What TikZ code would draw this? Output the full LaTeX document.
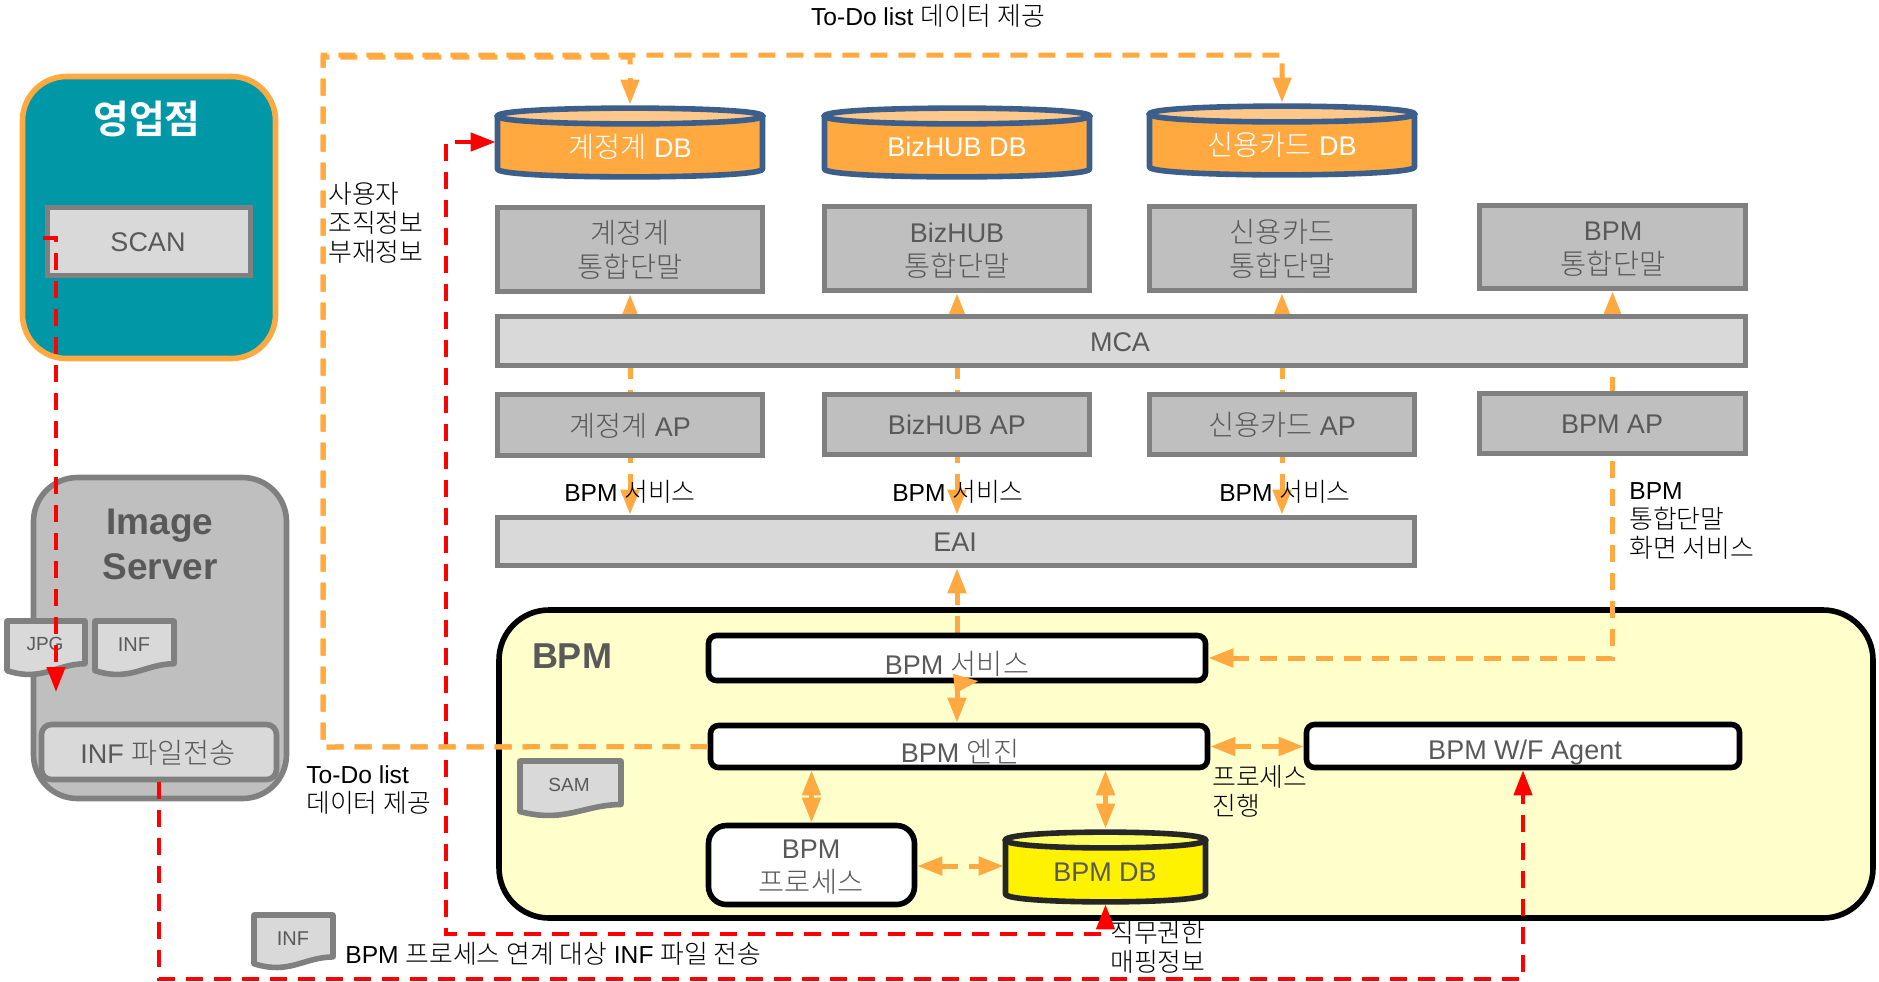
\documentclass[tikz,border=0pt]{standalone}
\usepackage{fontspec}
\setmainfont{Liberation Sans}
\newfontfamily\kr[Scale=1.05,BoldFont={Noto Sans CJK KR Bold}]{Noto Sans CJK KR Light}
\usetikzlibrary{arrows.meta,calc}
\newcommand\K[1]{{\kr #1}}
\definecolor{teal}{HTML}{0097A7}
\definecolor{orng}{HTML}{FFA940}
\definecolor{orngtop}{HTML}{FFC88A}
\definecolor{dbline}{HTML}{3B5F8A}
\definecolor{boxdark}{HTML}{BFBFBF}
\definecolor{boxlite}{HTML}{D9D9D9}
\definecolor{edge}{HTML}{808080}
\definecolor{txtgrey}{HTML}{595959}
\definecolor{paleyel}{HTML}{FFFFCC}
\definecolor{lightyel}{HTML}{FFFF66}
\definecolor{dkline}{HTML}{262626}
\pgfdeclarelayer{bg}\pgfdeclarelayer{conn}\pgfdeclarelayer{top}
\pgfsetlayers{bg,conn,main,top}
\tikzset{
  boxtxt/.style={inner sep=0pt,align=center,text=txtgrey,yshift=-0.6pt,font=\fontsize{13.5}{17}\selectfont},
  lab/.style={inner sep=0pt,align=left,anchor=west,text=black,yshift=-0.5pt,font=\fontsize{12.3}{14.4}\selectfont},
  labc/.style={inner sep=0pt,align=center,text=black,yshift=-0.5pt,font=\fontsize{12.3}{14.4}\selectfont},
  base/.style={inner sep=0pt,draw,line width=2.8pt},
  dark/.style={base,draw=edge,fill=boxdark},
  lite/.style={base,draw=edge,fill=boxlite},
  whitebox/.style={base,draw=black,fill=white,rounded corners=4pt},
  Tip/.tip={Triangle[length=12.5pt,width=9pt]},
  od/.style={draw=orng,line width=2.5pt,dash pattern=on 8.5pt off 5.5pt},
  rd/.style={draw=red,line width=2.2pt,dash pattern=on 8.5pt off 5.5pt},
}
% name, style, x0,y0,x1,y1 (outer edges), text x, text y, text
\newcommand\bx[9]{%
  \node[#2,minimum width={(#5-#3-3)*0.5pt},minimum height={(#6-#4-3)*0.5pt}] (#1) at ({(#3+#5)/2},{(#4+#6)/2}) {};
  \node[boxtxt] (#1-t) at (#7,#8) {#9};
}
% name, x0,y0,x1,y1, body, top, line
\newcommand\dbcyl[8]{%
  \node[inner sep=0pt,minimum width={(#4-#2)*0.5pt},minimum height={(#5-#3)*0.5pt}] (#1) at ({(#2+#4)/2},{(#3+#5)/2}) {};
  \pgfmathsetmacro\xl{#2+1.5}\pgfmathsetmacro\xr{#4-1.5}
  \pgfmathsetmacro\yt{#3+11}\pgfmathsetmacro\yb{#5-10}\pgfmathsetmacro\yd{10.5}
  \draw[line width=2.8pt,draw=#8,fill=#6,line join=round] (\xl,\yt) -- (\xl,\yb) .. controls (\xl,\yb+\yd) and (\xr,\yb+\yd) .. (\xr,\yb) -- (\xr,\yt) -- cycle;
  \draw[line width=2.8pt,draw=#8,fill=#7] (\xl,\yt) .. controls (\xl,\yt-\yd) and (\xr,\yt-\yd) .. (\xr,\yt) .. controls (\xr,\yt+\yd) and (\xl,\yt+\yd) .. (\xl,\yt) -- cycle;
}
% name, x0,y0,x1,y1, text x, text y, text, size
\newcommand\docbox[9]{%
  \pgfmathsetmacro\xa{#2+2}\pgfmathsetmacro\xb{#4-2}\pgfmathsetmacro\ya{#3+2}\pgfmathsetmacro\yb{#5-2}
  \pgfmathsetmacro\hh{\yb-\ya}\pgfmathsetmacro\ww{\xb-\xa}
  \draw[line width=2.8pt,draw=edge,fill=boxlite,line join=round] (\xa,\ya) -- (\xb,\ya) -- (\xb,{\ya+.79*\hh})
     .. controls ({\xa+.62*\ww},{\ya+.80*\hh}) and ({\xa+.45*\ww},{\ya+1.13*\hh}) .. (\xa,{\ya+.92*\hh}) -- cycle;
  \node[boxtxt,font=\fontsize{#9}{12}\selectfont] (#1) at (#6,#7) {#8};
}
\begin{document}
\begin{tikzpicture}[x=0.5pt,y=-0.5pt]
\useasboundingbox (0,0) rectangle (1879,981);

% big BPM container
\begin{pgfonlayer}{bg}
\node[base,draw=black,fill=paleyel,rounded corners=25pt,minimum width={(1875-497-4)*0.5pt},minimum height={(920-608-4)*0.5pt}] (bpmbig) at ({(497+1875)/2},{(608+920)/2}) {};
\end{pgfonlayer}
\node[inner sep=0pt,text=txtgrey,font=\fontsize{18}{22}\selectfont\bfseries] (bpmbig-t) at (572,656) {BPM};

% branch
\bx{branch}{base,draw=orng,fill=teal,rounded corners=22pt}{21}{75}{277}{360}{147}{118}{\textcolor{white}{\fontsize{18.5}{22}\selectfont\bfseries\K{영업점}}}
\bx{scan}{lite}{46}{206}{252}{277}{148}{241}{SCAN}

% image server
\bx{imgsrv}{base,draw=edge,fill=boxdark,rounded corners=22pt}{32}{476}{288}{800}{160}{543}{\fontsize{18.5}{22}\selectfont\bfseries Image\\[5.5pt]\fontsize{18.5}{22}\selectfont\bfseries Server}
\docbox{jpg}{5}{619}{87}{677}{45}{643}{JPG}{9.5}
\docbox{inf1}{93}{619}{176}{677}{134}{643}{INF}{10}
\bx{infsend}{lite,rounded corners=5pt}{40}{723}{278}{781}{158}{752}{INF \K{파일전송}}
\docbox{inf2}{252}{913}{335}{970}{293}{937}{INF}{10}
\docbox{sam}{518}{759}{623}{818}{569}{784}{SAM}{9.5}

% databases
\dbcyl{dbA}{496}{105}{764}{179}{orng}{orngtop}{dbline}
\node[boxtxt,text=white] (dbA-t) at (630,146) {\K{계정계} DB};
\dbcyl{dbB}{823}{105}{1091}{179}{orng}{orngtop}{dbline}
\node[boxtxt,text=white] (dbB-t) at (957,146) {BizHUB DB};
\dbcyl{dbC}{1148}{103}{1416}{177}{orng}{orngtop}{dbline}
\node[boxtxt,text=white] (dbC-t) at (1282,144) {\K{신용카드} DB};

% terminals
\bx{termA}{dark}{496}{206}{764}{293}{630}{249}{\K{계정계}\\\K{통합단말}}
\bx{termB}{dark}{823}{205}{1091}{292}{957}{249}{BizHUB\\\K{통합단말}}
\bx{termC}{dark}{1148}{205}{1416}{292}{1282}{248}{\K{신용카드}\\\K{통합단말}}
\bx{termD}{dark}{1478}{204}{1747}{290}{1613}{248}{BPM\\\K{통합단말}}

\bx{mca}{lite}{496}{315}{1747}{367}{1120}{341}{MCA}

\bx{apA}{dark}{496}{393}{764}{457}{630}{425}{\K{계정계} AP}
\bx{apB}{dark}{823}{393}{1091}{456}{957}{424}{BizHUB AP}
\bx{apC}{dark}{1148}{393}{1416}{456}{1282}{424}{\K{신용카드} AP}
\bx{apD}{dark}{1478}{392}{1747}{455}{1612}{423}{BPM AP}

\bx{eai}{lite}{496}{516}{1416}{567}{955}{541}{EAI}

% BPM inner
\bx{svc}{whitebox}{707}{634}{1207}{682}{957}{663}{BPM \K{서비스}}
\bx{eng}{whitebox}{709}{724}{1209}{769}{960}{750}{BPM \K{엔진}}
\bx{wf}{whitebox}{1305}{723}{1741}{769}{1525}{751}{BPM W/F Agent}
\bx{proc}{whitebox,rounded corners=9pt}{707}{824}{916}{906}{811}{866}{BPM\\\K{프로세스}}
\dbcyl{dbP}{1004}{829}{1207}{904}{yellow}{lightyel}{dkline}
\node[boxtxt] (dbP-t) at (1105,871) {BPM DB};

% orange connectors behind boxes
\begin{pgfonlayer}{conn}
\draw[od,Tip-Tip] (termA.south |- eai.north) -- (termA.south);
\draw[od,Tip-Tip] (termB.south |- eai.north) -- (termB.south);
\draw[od,Tip-Tip] (termC.south |- eai.north) -- (termC.south);
\draw[od,Tip-Tip] (svc.east) -- (termD.south |- svc.east) -- (termD.south);
\draw[od,-Tip] (svc.north) -- (svc.north |- eai.south);
\draw[od,-Tip] (svc.south) -- (svc.south |- eng.north);
\draw[od,Tip-Tip] (eng.east) -- (wf.west |- eng.east);
\draw[od,Tip-Tip] (eng.south -| proc.north) -- (proc.north);
\draw[od,Tip-Tip] (eng.south -| dbP.north) -- (dbP.north);
\draw[od,Tip-Tip] (proc.east |- 0,866) -- (dbP.west |- 0,866);
\end{pgfonlayer}

% labels
\node[labc] (l1) at (928,15) {To-Do list \K{데이터 제공}};
\node[lab] (l2) at (328,222) {\K{사용자}\\\K{조직정보}\\\K{부재정보}};
\node[labc] (l3) at (630,491) {BPM \K{서비스}};
\node[labc] (l4) at (958,491) {BPM \K{서비스}};
\node[labc] (l5) at (1285,491) {BPM \K{서비스}};
\node[lab] (l6) at (1629,520) {BPM\\\K{통합단말}\\\K{화면 서비스}};
\node[lab] (l7) at (306,789) {To-Do list\\\K{데이터 제공}};
\node[lab] (l8) at (1212,790) {\K{프로세스}\\\K{진행}};
\node[lab] (l9) at (1110,946) {\K{직무권한}\\\K{매핑정보}};
\node[lab] (l10) at (345,953) {BPM \K{프로세스 연계 대상} INF \K{파일 전송}};

% top layer connectors
\begin{pgfonlayer}{top}
\coordinate (scanin) at (43,238);
\draw[rd,-Tip] (scanin) -- (56,238) -- (56,692);
\draw[rd,-Tip] (infsend.south) -- (infsend.south |- 0,979) -- (wf.south |- 0,979) -- (wf.south);
\draw[rd,Tip-Tip] (dbA.west) -- (446,142) -- (446,934) -- (dbP.south |- 0,934) -- (dbP.south);
\draw[od,solid,-Tip] (svc.south) -- (979,681);
\draw[od] (eng.west) -- (323,747) -- (323,57) -- (dbA.north |- 0,57) -- (dbA.north |- 0,65);
\draw[od,-Tip] (eng.west) -- (323,747) -- (323,55) -- (dbC.north |- 0,55) -- (dbC.north);
\draw[od,-Tip] (dbA.north |- 0,78) -- (dbA.north);
\end{pgfonlayer}
\end{tikzpicture}
\end{document}
